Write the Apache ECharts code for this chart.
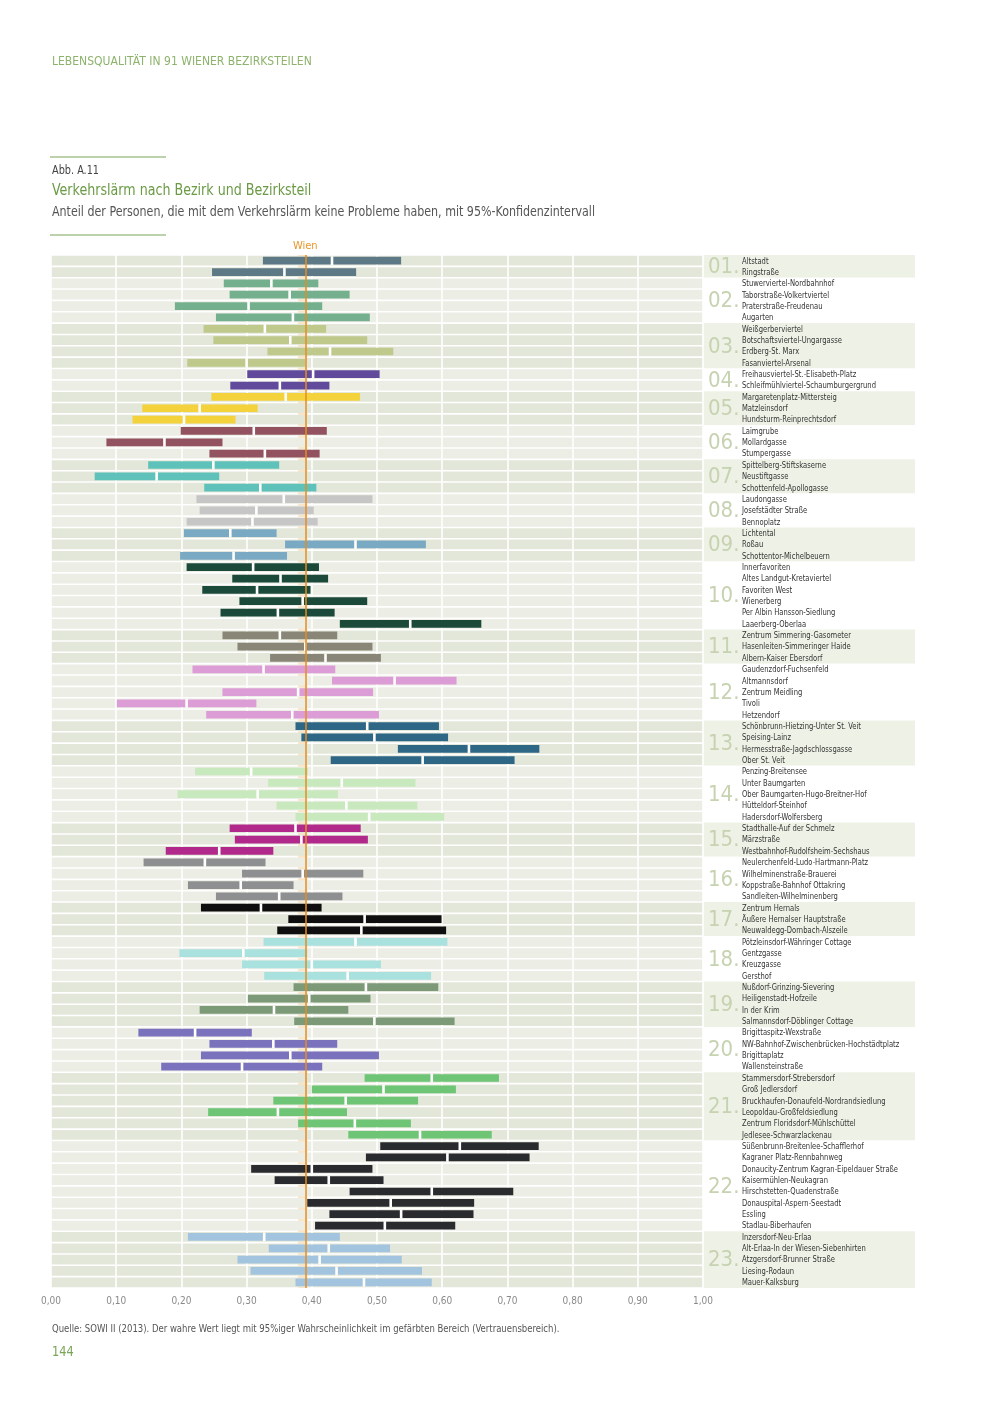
<!DOCTYPE html>
<html>
<head>
<meta charset="utf-8">
<script src="https://cdn.jsdelivr.net/npm/echarts@6/dist/echarts.min.js"></script>
<style>
html,body{margin:0;padding:0;background:#fff;}
#chart{width:1000px;height:1414px;}
</style>
</head>
<body>
<div id="chart"></div>
<script>
// ---------- DATA ----------
const districtNumbers = ['01.','02.','03.','04.','05.','06.','07.','08.','09.','10.','11.','12.','13.','14.','15.','16.','17.','18.','19.','20.','21.','22.','23.'];
const districtSizes = [2,4,4,2,3,3,3,3,3,6,3,5,4,5,3,4,3,4,4,4,6,8,5];
const districtColors = ['#5e7986','#74b08e','#bec98b','#614a9b','#f3d23c','#93525f','#5fc2ba','#c6c6c6','#7aa9c3','#1b4a3b','#8a8677','#dc9dd6','#2e6686','#c8e9be','#b12a8b','#8d8f91','#0f0f0f','#a9e1df','#7c9a78','#7b72be','#6ec576','#2a2b2f','#a3c4de'];

const subdistricts = [
 'Altstadt','Ringstraße',
 'Stuwerviertel-Nordbahnhof','Taborstraße-Volkertviertel','Praterstraße-Freudenau','Augarten',
 'Weißgerberviertel','Botschaftsviertel-Ungargasse','Erdberg-St. Marx','Fasanviertel-Arsenal',
 'Freihausviertel-St.-Elisabeth-Platz','Schleifmühlviertel-Schaumburgergrund',
 'Margaretenplatz-Mittersteig','Matzleinsdorf','Hundsturm-Reinprechtsdorf',
 'Laimgrube','Mollardgasse','Stumpergasse',
 'Spittelberg-Stiftskaserne','Neustiftgasse','Schottenfeld-Apollogasse',
 'Laudongasse','Josefstädter Straße','Bennoplatz',
 'Lichtental','Roßau','Schottentor-Michelbeuern',
 'Innerfavoriten','Altes Landgut-Kretaviertel','Favoriten West','Wienerberg','Per Albin Hansson-Siedlung','Laaerberg-Oberlaa',
 'Zentrum Simmering-Gasometer','Hasenleiten-Simmeringer Haide','Albern-Kaiser Ebersdorf',
 'Gaudenzdorf-Fuchsenfeld','Altmannsdorf','Zentrum Meidling','Tivoli','Hetzendorf',
 'Schönbrunn-Hietzing-Unter St. Veit','Speising-Lainz','Hermesstraße-Jagdschlossgasse','Ober St. Veit',
 'Penzing-Breitensee','Unter Baumgarten','Ober Baumgarten-Hugo-Breitner-Hof','Hütteldorf-Steinhof','Hadersdorf-Wolfersberg',
 'Stadthalle-Auf der Schmelz','Märzstraße','Westbahnhof-Rudolfsheim-Sechshaus',
 'Neulerchenfeld-Ludo-Hartmann-Platz','Wilhelminenstraße-Brauerei','Koppstraße-Bahnhof Ottakring','Sandleiten-Wilhelminenberg',
 'Zentrum Hernals','Äußere Hernalser Hauptstraße','Neuwaldegg-Dornbach-Alszeile',
 'Pötzleinsdorf-Währinger Cottage','Gentzgasse','Kreuzgasse','Gersthof',
 'Nußdorf-Grinzing-Sievering','Heiligenstadt-Hofzeile','In der Krim','Salmannsdorf-Döblinger Cottage',
 'Brigittaspitz-Wexstraße','NW-Bahnhof-Zwischenbrücken-Hochstädtplatz','Brigittaplatz','Wallensteinstraße',
 'Stammersdorf-Strebersdorf','Groß Jedlersdorf','Bruckhaufen-Donaufeld-Nordrandsiedlung','Leopoldau-Großfeldsiedlung','Zentrum Floridsdorf-Mühlschüttel','Jedlesee-Schwarzlackenau',
 'Süßenbrunn-Breitenlee-Schafflerhof','Kagraner Platz-Rennbahnweg','Donaucity-Zentrum Kagran-Eipeldauer Straße','Kaisermühlen-Neukagran','Hirschstetten-Quadenstraße','Donauspital-Aspern-Seestadt','Essling','Stadlau-Biberhaufen',
 'Inzersdorf-Neu-Erlaa','Alt-Erlaa-In der Wiesen-Siebenhirten','Atzgersdorf-Brunner Straße','Liesing-Rodaun','Mauer-Kalksburg'
];

const lowValues = [
 0.325,0.247,
 0.265,0.274,0.190,0.253,
 0.234,0.249,0.332,0.209,
 0.301,0.275,
 0.246,0.140,0.125,
 0.199,0.085,0.243,
 0.149,0.067,0.235,
 0.223,0.228,0.208,
 0.204,0.359,0.198,
 0.208,0.278,0.232,0.289,0.260,0.443,
 0.263,0.286,0.336,
 0.217,0.431,0.263,0.101,0.238,
 0.375,0.384,0.532,0.429,
 0.221,0.333,0.194,0.346,0.375,
 0.274,0.282,0.176,
 0.142,0.293,0.210,0.253,
 0.230,0.364,0.347,
 0.326,0.197,0.293,0.327,
 0.372,0.302,0.228,0.373,
 0.134,0.243,0.230,0.169,
 0.481,0.400,0.341,0.241,0.379,0.456,
 0.505,0.483,0.307,0.343,0.458,0.393,0.427,0.405,
 0.210,0.334,0.286,0.306,0.375
];
const highValues = [
 0.537,0.468,
 0.410,0.458,0.416,0.489,
 0.422,0.485,0.525,0.390,
 0.504,0.427,
 0.474,0.317,0.283,
 0.423,0.263,0.412,
 0.350,0.258,0.407,
 0.493,0.403,0.409,
 0.346,0.575,0.362,
 0.411,0.425,0.398,0.485,0.435,0.660,
 0.439,0.493,0.506,
 0.436,0.622,0.494,0.315,0.503,
 0.595,0.609,0.749,0.711,
 0.394,0.559,0.440,0.562,0.603,
 0.475,0.486,0.341,
 0.329,0.479,0.372,0.447,
 0.415,0.599,0.606,
 0.608,0.393,0.506,0.583,
 0.594,0.490,0.456,0.619,
 0.308,0.439,0.503,0.416,
 0.687,0.621,0.563,0.454,0.552,0.676,
 0.748,0.734,0.493,0.510,0.709,0.649,0.648,0.620,
 0.443,0.520,0.538,0.569,0.584
];
const meanValues = [
 0.431,0.358,
 0.338,0.366,0.303,0.371,
 0.328,0.367,0.428,0.300,
 0.402,0.351,
 0.360,0.228,0.204,
 0.311,0.174,0.328,
 0.249,0.162,0.321,
 0.357,0.315,0.309,
 0.275,0.467,0.280,
 0.310,0.352,0.316,0.386,0.348,0.551,
 0.351,0.390,0.421,
 0.326,0.527,0.379,0.208,0.370,
 0.485,0.496,0.641,0.570,
 0.307,0.446,0.317,0.453,0.488,
 0.375,0.384,0.258,
 0.236,0.386,0.291,0.350,
 0.322,0.481,0.476,
 0.467,0.295,0.400,0.455,
 0.483,0.396,0.342,0.496,
 0.221,0.341,0.367,0.293,
 0.584,0.510,0.452,0.348,0.466,0.566,
 0.627,0.608,0.400,0.426,0.584,0.521,0.537,0.512,
 0.327,0.426,0.412,0.438,0.480
];
const wienValue = 0.386;
const wienLow = 0.379;
const wienHigh = 0.393;

// ---------- derived tables ----------
const rowDistrict = [];
const districtBlocks = [];
let r = 0;
districtSizes.forEach((n, d) => {
  districtBlocks.push([1, r, r + n - 1, d]);
  for (let i = 0; i < n; i++) rowDistrict.push(d);
  r += n;
});
const barData = subdistricts.map((name, i) => [lowValues[i], highValues[i], meanValues[i], i, rowDistrict[i]]);
const bgData = subdistricts.map((name, i) => [0, 1, i, rowDistrict[i]]);
const labelData = subdistricts.map((name, i) => [1, i]);

const FONT = "'DejaVu Sans Condensed','DejaVu Sans',sans-serif";

const chart = echarts.init(document.getElementById('chart'), null, {renderer: 'canvas'});

function renderBg(params, api) {
  const row = api.value(2);
  const p0 = api.coord([api.value(0), row]);
  const p1 = api.coord([api.value(1), row]);
  const bw = api.size([0, 1])[1];
  const d = api.value(3);
  return {
    type: 'rect',
    shape: {x: p0[0], y: p0[1] - bw / 2 + 0.8, width: p1[0] - p0[0], height: bw - 1.6},
    style: {fill: d % 2 === 0 ? '#e3e7d9' : '#ecede4'}
  };
}

function renderBlock(params, api) {
  const pTop = api.coord([api.value(0), api.value(1)]);
  const pBot = api.coord([api.value(0), api.value(2)]);
  const bw = api.size([0, 1])[1];
  const d = api.value(3);
  const top = pTop[1] - bw / 2;
  const bot = pBot[1] + bw / 2;
  return {
    type: 'group',
    children: [
      {type: 'rect', shape: {x: pTop[0], y: top, width: 212, height: bot - top},
       style: {fill: d % 2 === 0 ? '#eef2e6' : '#ffffff'}},
      {type: 'text', x: pTop[0] + 5, y: (top + bot) / 2 + 1,
       style: {text: districtNumbers[d], fill: '#c6d2b0', font: "22px " + FONT,
               verticalAlign: 'middle', align: 'left'}}
    ]
  };
}

function renderLabel(params, api) {
  const p = api.coord([api.value(0), api.value(1)]);
  return {
    type: 'text', x: p[0] + 39, y: p[1] + 0.5, scaleX: 0.84, scaleY: 1,
    style: {text: subdistricts[params.dataIndex], fill: '#333333', font: "9px " + FONT,
            verticalAlign: 'middle', align: 'left'}
  };
}

function renderBar(params, api) {
  const row = api.value(3);
  const pL = api.coord([api.value(0), row]);
  const pH = api.coord([api.value(1), row]);
  const pM = api.coord([api.value(2), row]);
  const bw = api.size([0, 1])[1];
  const h = bw * 0.68;
  const color = districtColors[api.value(4)];
  return {
    type: 'group',
    children: [
      {type: 'rect', shape: {x: pL[0], y: pL[1] - h / 2, width: pH[0] - pL[0], height: h}, style: {fill: color}},
      {type: 'rect', shape: {x: pM[0] - 1.3, y: pL[1] - h / 2 - 0.5, width: 2.6, height: h + 1}, style: {fill: '#ffffff'}}
    ]
  };
}

const option = {
  animation: false,
  backgroundColor: '#ffffff',
  grid: {left: 51, top: 255, width: 652, height: 1033, containLabel: false},
  xAxis: {
    type: 'value', min: 0, max: 1, interval: 0.1, z: 2,
    axisLine: {show: false}, axisTick: {show: false},
    splitLine: {show: true, lineStyle: {color: '#ffffff', width: 1.6}},
    axisLabel: {margin: 8, fontSize: 10, color: '#8a8a8a', fontFamily: FONT,
      formatter: v => v.toFixed(2).replace('.', ',')}
  },
  yAxis: {type: 'category', data: subdistricts, inverse: true, show: false},
  graphic: [
    {type: 'text', x: 52, y: 62, scaleX: 0.925, style: {text: 'LEBENSQUALITÄT IN 91 WIENER BEZIRKSTEILEN', fill: '#8db36c', font: "13px " + FONT, verticalAlign: 'middle'}},
    {type: 'line', shape: {x1: 50, y1: 157, x2: 166, y2: 157}, style: {stroke: '#7aa558', lineWidth: 1}},
    {type: 'text', x: 52, y: 171, scaleX: 0.9, style: {text: 'Abb. A.11', fill: '#444444', font: "12px " + FONT, verticalAlign: 'middle'}},
    {type: 'text', x: 52, y: 191, scaleX: 0.88, style: {text: 'Verkehrslärm nach Bezirk und Bezirksteil', fill: '#6b9a45', font: "16px " + FONT, verticalAlign: 'middle'}},
    {type: 'text', x: 52, y: 212, scaleX: 0.88, style: {text: 'Anteil der Personen, die mit dem Verkehrslärm keine Probleme haben, mit 95%-Konfidenzintervall', fill: '#555555', font: "14px " + FONT, verticalAlign: 'middle'}},
    {type: 'line', shape: {x1: 50, y1: 235, x2: 166, y2: 235}, style: {stroke: '#7aa558', lineWidth: 1}},
    {type: 'text', x: 52, y: 1329, scaleX: 0.9, style: {text: 'Quelle: SOWI II (2013). Der wahre Wert liegt mit 95%iger Wahrscheinlichkeit im gefärbten Bereich (Vertrauensbereich).', fill: '#555555', font: "10.5px " + FONT, verticalAlign: 'middle'}},
    {type: 'text', x: 52, y: 1352, scaleX: 0.9, style: {text: '144', fill: '#7aa558', font: "14px " + FONT, verticalAlign: 'middle'}}
  ],
  series: [
    {type: 'custom', name: 'bg', z: 1, silent: true, renderItem: renderBg, data: bgData,
     encode: {x: [0, 1], y: 2}},
    {type: 'custom', name: 'blocks', z: 1, silent: true, renderItem: renderBlock, data: districtBlocks,
     encode: {x: 0, y: [1, 2]}, clip: false},
    {type: 'custom', name: 'labels', z: 6, silent: true, renderItem: renderLabel, data: labelData,
     encode: {x: 0, y: 1}, clip: false},
    {type: 'line', name: 'wienBand', z: 3, data: [], silent: true,
     markArea: {silent: true, itemStyle: {color: 'rgba(250,205,150,0.55)'},
       data: [[{xAxis: wienLow}, {xAxis: wienHigh}]]}},
    {type: 'custom', name: 'bars', z: 4, renderItem: renderBar, data: barData,
     encode: {x: [0, 1, 2], y: 3}},
    {type: 'line', name: 'wienLine', z: 5, data: [], silent: true,
     markLine: {silent: true, symbol: ['none', 'none'],
       lineStyle: {color: '#e58d22', width: 1.5, type: 'solid'},
       label: {show: true, position: 'start', formatter: 'Wien', color: '#e8952b', fontSize: 11, fontFamily: FONT, distance: 3},
       data: [{xAxis: wienValue}]}}
  ]
};
chart.setOption(option);
</script>
</body>
</html>
